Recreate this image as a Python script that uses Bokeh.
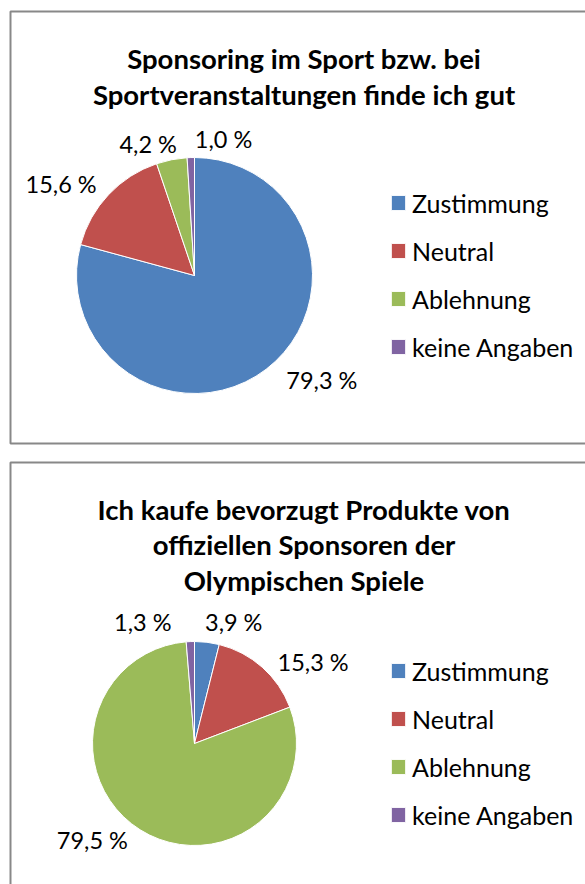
import numpy as np
from bokeh.plotting import figure
from bokeh.models import ColumnDataSource, Range1d, Legend, LegendItem, BoxAnnotation
from bokeh.layouts import column
from bokeh.embed import file_html
from bokeh.resources import INLINE
from bokeh.core.properties import value

# ---------------- data ----------------
categories = ["Zustimmung", "Neutral", "Ablehnung", "keine Angaben"]
colors = ["#4F81BD", "#C0504D", "#9BBB59", "#8064A2"]

title_sport = ["Sponsoring im Sport bzw. bei", "Sportveranstaltungen finde ich gut"]
values_sport = [79.3, 15.6, 4.2, 1.0]

title_olymp = ["Ich kaufe bevorzugt Produkte von", "offiziellen Sponsoren der", "Olympischen Spiele"]
values_olymp = [3.9, 15.3, 79.5, 1.3]

# ---------------- layout / style ----------------
FONT = "Lato"
W = 585
TITLE_SIZE = "27.5px"
LABEL_SIZE = "23.5px"
LEGEND_SIZE = "25px"
BORDER = "#888888"


def fmt(v):
    return ("%.1f %%" % v).replace(".", ",")


def make_panel(H, vals, title_lines, title_baselines, center, radius, nudges,
               legend_top, box_top, box_bottom):
    p = figure(width=W, height=H, output_backend="svg", toolbar_location=None,
               x_range=Range1d(0, W), y_range=Range1d(0, H),
               x_axis_location=None, y_axis_location=None,
               min_border=0, outline_line_color=None)
    p.grid.visible = False
    p.background_fill_color = "white"

    # panel frame (right / lower edges run off the page like in the original)
    p.add_layout(BoxAnnotation(left=10, right=W + 20, top=H - box_top,
                               bottom=H - box_bottom, fill_alpha=0,
                               fill_color=None, line_color=BORDER,
                               line_alpha=1.0, line_width=2, level="underlay"))

    cx, cy = center[0], H - center[1]
    total = float(sum(vals))
    frac = np.array(vals, dtype=float) / total
    cum = np.concatenate([[0.0], np.cumsum(frac)])
    theta0 = cum[:-1] * 2 * np.pi
    theta1 = cum[1:] * 2 * np.pi
    src = ColumnDataSource(dict(
        cat=categories, color=colors, val=vals,
        start=np.pi / 2 - theta0, end=np.pi / 2 - theta1,
    ))
    wr = p.wedge(x=cx, y=cy, radius=radius, start_angle="start", end_angle="end",
                 direction="clock", fill_color="color", line_color="white",
                 line_width=1, source=src)

    # data labels placed outside along each slice's mid-angle
    mid = (theta0 + theta1) / 2
    s, c = np.sin(mid), np.cos(mid)
    R = radius + 6
    lx = cx + R * s + s * 33 + np.array([n[0] for n in nudges])
    ly = cy + R * c + c * 10 - np.array([n[1] for n in nudges])
    p.text(x=lx, y=ly, text=[fmt(v) for v in vals], text_align="center",
           text_baseline="middle", text_font=value(FONT),
           text_font_size=LABEL_SIZE, text_color="#000000")

    # title
    p.text(x=[303.5] * len(title_lines), y=[H - b for b in title_baselines],
           text=title_lines, text_align="center", text_baseline="alphabetic",
           text_font=value(FONT), text_font_style="bold",
           text_font_size=TITLE_SIZE, text_color="#000000")

    # legend
    item_h, spacing = 30, 18
    total_h = 4 * item_h + 3 * spacing
    items = [LegendItem(label=cat, renderers=[wr], index=i) for i, cat in enumerate(categories)]
    legend = Legend(items=items, location=(389, H - legend_top - total_h),
                    orientation="vertical", glyph_width=18, glyph_height=19,
                    label_standoff=5, label_height=item_h, spacing=spacing,
                    padding=0, margin=0, border_line_color=None,
                    background_fill_alpha=0, label_text_font=FONT,
                    label_text_font_size=LEGEND_SIZE, label_text_color="#000000",
                    label_text_baseline="middle")
    p.add_layout(legend)
    return p


p1 = make_panel(452, values_sport, title_sport, [58, 94], (194, 275), 118,
                [(32, -2), (-19, 0), (-16, 0), (34, -3)], 187.5, 11, 443)
p2 = make_panel(432, values_olymp, title_olymp, [57, 92, 128], (194, 291), 102,
                [(22, -4), (25, 7), (-27, -3), (-46, -4)], 203.5, 10, 460)

layout = column(p1, p2, spacing=0)
open("out.html", "w").write(file_html(layout, INLINE))
